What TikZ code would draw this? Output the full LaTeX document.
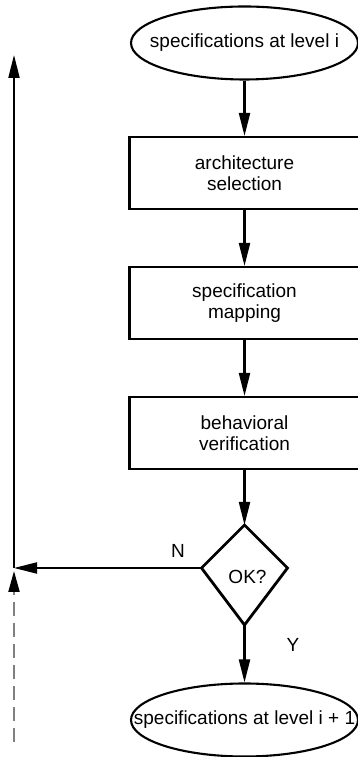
\documentclass[tikz,border=0pt]{standalone}
\usepackage{fontspec}
\setmainfont{Liberation Sans}
\usetikzlibrary{shapes.geometric}
\usetikzlibrary{arrows.meta}

\begin{document}
\begin{tikzpicture}[x=1pt,y=1pt,
  font=\fontsize{19}{21}\selectfont,
  spec/.style={ellipse,draw,line width=2.1pt,inner sep=0pt,minimum width=227pt,minimum height=73pt},
  task/.style={rectangle,draw,line width=2.1pt,minimum width=230pt,minimum height=72pt,align=center},
  flow/.style={line width=2.1pt,-{Triangle[length=23pt,width=11pt]}}]
\useasboundingbox (0,0) rectangle (357,757);
% main chain
\node[spec] (lvl) at (244.5,714) {\makebox[0pt]{specifications at level i}};
\node[task] (arch) at (244.5,584) {architecture\\selection};
\node[task] (map) at (244.5,454) {specification\\mapping};
\node[task] (verif) at (244.5,324) {behavioral\\verification};
\node[spec] (next) at (244.5,37) {\makebox[0pt]{specifications at level i + 1}};
% decision, a kite rather than a true diamond
\coordinate (okT) at (244.5,232);
\coordinate (okR) at (287.5,189);
\coordinate (okB) at (244.5,132);
\coordinate (okL) at (201.5,189);
\draw[line width=2.8pt,line join=miter] (okT) -- (okR) -- (okB) -- (okL) -- cycle;
\node (ok) at (247.5,180) {OK?};
\node (no) at (178,206) {N};
\node (yes) at (293,112) {Y};
\draw[flow] (lvl) -- (arch);
\draw[flow] (arch) -- (map);
\draw[flow] (map) -- (verif);
\draw[flow] (verif) -- (okT);
\draw[flow] (okB) -- (next);
% loop back on the left
\coordinate (rail) at (14,702);
\coordinate (join) at (okL -| rail);
\coordinate (tail) at (14,15);
\draw[flow] (okL) -- (join);
\draw[flow] (join) -- (rail);
\draw[line width=2.1pt,draw=gray,dash pattern=on 13.5pt off 7.5pt,
  -{Triangle[length=21pt,width=11pt,color=black]}] (tail) -- ([yshift=-3pt]join);
\end{tikzpicture}
\end{document}
